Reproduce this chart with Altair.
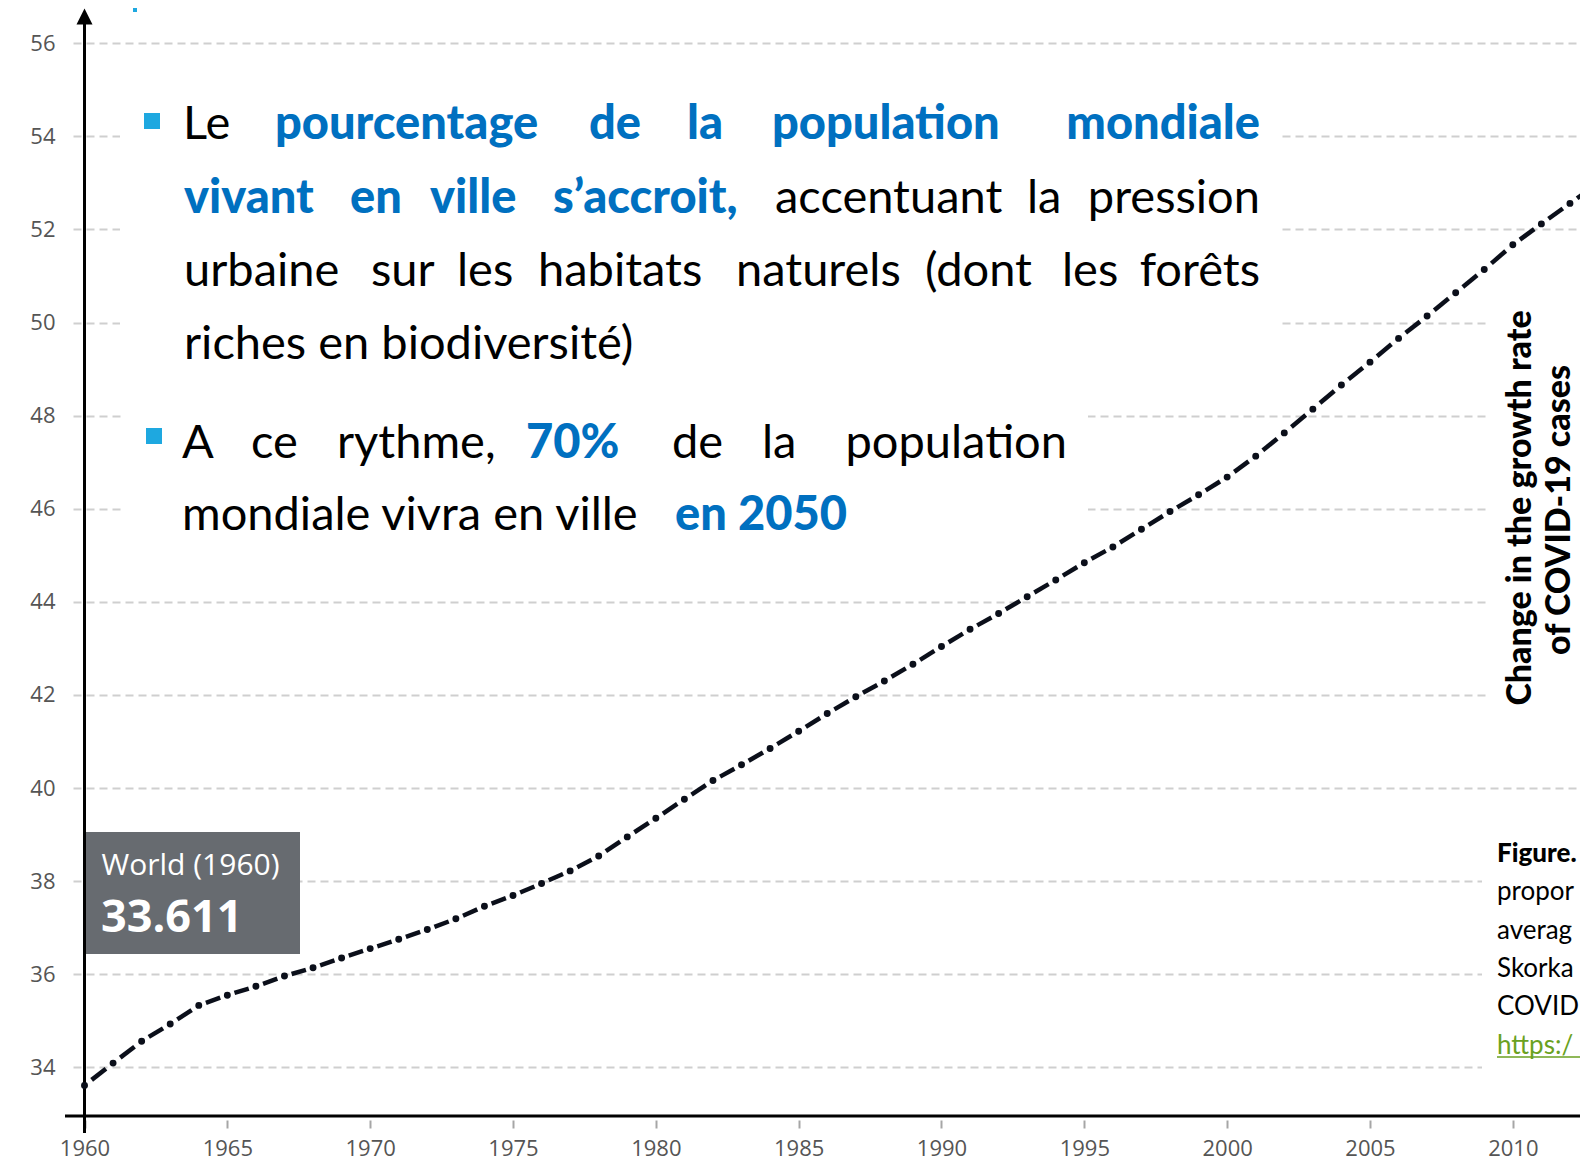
import altair as alt
import pandas as pd

# ---------------- data ----------------
years = list(range(1960, 2014))
urban_share = [
    33.61, 34.09, 34.56, 34.93, 35.33, 35.55, 35.74, 35.96, 36.14, 36.35,
    36.55, 36.75, 36.96, 37.19, 37.46, 37.69, 37.95, 38.22, 38.54, 38.95,
    39.35, 39.76, 40.16, 40.50, 40.85, 41.22, 41.60, 41.96, 42.30, 42.66,
    43.04, 43.41, 43.75, 44.11, 44.47, 44.84, 45.18, 45.56, 45.94, 46.30,
    46.68, 47.13, 47.63, 48.14, 48.66, 49.15, 49.66, 50.14, 50.64, 51.14,
    51.67, 52.12, 52.56, 53.00,
]
x_ticks = list(range(1960, 2011, 5))
y_ticks = list(range(34, 57, 2))

df = pd.DataFrame({"year": years, "value": urban_share})

# ---------------- layout ----------------
W, H = 1507, 1108          # plot area
OX, OY = 73, 8             # page position of plot origin
LINE = "#0b0f1a"
BLUE = "#0070c0"
BULLET = "#1ea8e0"
SLIDE_FONT = "Lato"
CHART_FONT = "Open Sans"

xs = alt.Scale(domain=[1959.597, 2012.352], nice=False, zero=False)
ys = alt.Scale(domain=[32.954, 56.758], nice=False, zero=False)

xaxis = alt.Axis(values=x_ticks, format="d", title=None, grid=False, domain=False,
                 ticks=True, tickSize=8, tickColor="#a6a6a6", tickWidth=2, offset=4,
                 labelPadding=10, labelFont=CHART_FONT, labelFontSize=22,
                 labelColor="#555555", labelFlush=False, labelOverlap=False)
yaxis = alt.Axis(values=y_ticks, title=None, grid=True, gridColor="#cfcfcf",
                 gridDash=[8, 5], gridWidth=2, domain=False, ticks=False,
                 labelPadding=18, labelFont=CHART_FONT, labelFontSize=22,
                 labelColor="#555555", labelOverlap=False)


def one(**kw):
    return pd.DataFrame({k: [v] for k, v in kw.items()})


def box(x1, y1, x2, y2, color):
    return alt.Chart(one(k=0)).mark_rect(color=color, opacity=1).encode(
        x=alt.value(x1 - OX), x2=alt.value(x2 - OX),
        y=alt.value(y1 - OY), y2=alt.value(y2 - OY))


def word(s, x, y, size, color="black", weight="normal", font=SLIDE_FONT,
         align="left", angle=0):
    return alt.Chart(one(t=s)).mark_text(
        align=align, baseline="alphabetic", font=font, fontSize=size,
        fontWeight=weight, color=color, angle=angle).encode(
        text="t:N", x=alt.value(x - OX), y=alt.value(y - OY))


layers = []

# white boxes of the slide text frames (hide grid lines behind them)
layers += [
    box(120, 60, 1281, 392, "white"),
    box(122, 392, 1088, 562, "white"),
    box(1490, 272, 1600, 740, "white"),
    box(1482, 828, 1600, 1092, "white"),
]

# tooltip box
layers.append(box(85, 832, 300, 954, "#676b70"))
layers.append(word("World (1960)", 101.5, 875, 30, "white", "normal", CHART_FONT))
layers.append(word("33.611", 101, 931.5, 45, "white", "bold", CHART_FONT))

# axis lines
layers.append(alt.Chart(one(k=0)).mark_rule(color="black", strokeWidth=3).encode(
    x=alt.value(84.5 - OX), y=alt.value(20 - OY), y2=alt.value(1133 - OY)))
layers.append(alt.Chart(one(k=0)).mark_rule(color="black", strokeWidth=3).encode(
    x=alt.value(65 - OX), x2=alt.value(W), y=alt.value(H)))
layers.append(alt.Chart(one(k=0)).mark_point(
    shape="M-1,1L0,-1L1,1Z", filled=True, size=256, color="black", opacity=1).encode(
    x=alt.value(84.5 - OX), y=alt.value(16.5 - OY)))

# small blue remnant at top
layers.append(box(133, 8, 137, 12, BULLET))

# line: one dash per yearly segment + a dot at every year
dashes = (
    alt.Chart(df)
    .transform_window(ny="lead(year)", nv="lead(value)",
                      sort=[alt.SortField("year")], frame=[None, None])
    .transform_filter("datum.ny != null")
    .transform_calculate(
        xa="datum.year + 0.25*(datum.ny - datum.year)",
        xb="datum.year + 0.75*(datum.ny - datum.year)",
        ya="datum.value + 0.25*(datum.nv - datum.value)",
        yb="datum.value + 0.75*(datum.nv - datum.value)")
    .mark_rule(color=LINE, strokeWidth=4.5, strokeCap="butt")
    .encode(x=alt.X("xa:Q", scale=xs, axis=xaxis), x2="xb:Q",
            y=alt.Y("ya:Q", scale=ys, axis=yaxis), y2="yb:Q")
)
dots = alt.Chart(df).mark_circle(size=48, color=LINE, opacity=1).encode(
    x=alt.X("year:Q", scale=xs, axis=xaxis),
    y=alt.Y("value:Q", scale=ys, axis=yaxis))
layers += [dashes, dots]

# slide text: bullets
layers.append(box(144, 113, 160, 129, BULLET))
layers.append(box(146, 428, 162, 444, BULLET))

FS = 47
B = 900
N = "normal"
texts = [
    # line 1
    ("Le", 183, 139, "black", N, "left"),
    ("pourcentage", 275, 139, BLUE, B, "left"),
    ("de", 589, 139, BLUE, B, "left"),
    ("la", 687, 139, BLUE, B, "left"),
    ("population", 772, 139, BLUE, B, "left"),
    ("mondiale", 1260, 139, BLUE, B, "right"),
    # line 2
    ("vivant", 184, 212.5, BLUE, B, "left"),
    ("en", 350, 212.5, BLUE, B, "left"),
    ("ville", 430, 212.5, BLUE, B, "left"),
    ("s\u2019accroit,", 553, 212.5, BLUE, B, "left"),
    ("accentuant", 775, 212.5, "black", N, "left"),
    ("la", 1027, 212.5, "black", N, "left"),
    ("pression", 1260, 212.5, "black", N, "right"),
    # line 3
    ("urbaine", 184, 286, "black", N, "left"),
    ("sur", 371, 286, "black", N, "left"),
    ("les", 457, 286, "black", N, "left"),
    ("habitats", 538, 286, "black", N, "left"),
    ("naturels", 736, 286, "black", N, "left"),
    ("(dont", 925, 286, "black", N, "left"),
    ("les", 1062, 286, "black", N, "left"),
    ("for\u00eats", 1260, 286, "black", N, "right"),
    # line 4
    ("riches en biodiversit\u00e9)", 184, 359, "black", N, "left"),
    # bullet 2
    ("A", 182, 458, "black", N, "left"),
    ("ce", 251, 458, "black", N, "left"),
    ("rythme,", 337, 458, "black", N, "left"),
    ("70%", 526, 458, BLUE, B, "left"),
    ("de", 672, 458, "black", N, "left"),
    ("la", 762, 458, "black", N, "left"),
    ("population", 1067, 458, "black", N, "right"),
    ("mondiale vivra en ville", 182, 530, "black", N, "left"),
    ("en 2050", 675, 530, BLUE, B, "left"),
]
for s, x, y, c, wgt, al in texts:
    layers.append(word(s, x, y, FS, c, wgt, SLIDE_FONT, al))

# rotated axis title of the neighbouring figure
layers.append(word("Change in the growth rate", 1531, 508, 34, "black", 900,
                   SLIDE_FONT, "center", 270))
layers.append(word("of COVID-19 cases", 1570, 510, 34, "black", 900,
                   SLIDE_FONT, "center", 270))

# caption of the neighbouring figure (cut at the page edge)
CX = 1497
layers.append(word("Figure.", CX, 861.5, 26, "black", 900))
for s, y in [("propor", 900), ("averag", 938.5), ("Skorka", 976.5), ("COVID", 1015)]:
    layers.append(word(s, CX, y, 26, "black"))
layers.append(word("https:/", CX, 1053.5, 26, "#6aa121"))
layers.append(alt.Chart(one(k=0)).mark_rule(color="#6aa121", strokeWidth=1.5).encode(
    x=alt.value(CX - OX), x2=alt.value(W), y=alt.value(1057 - OY)))

chart = (
    alt.layer(*layers)
    .properties(width=W, height=H,
                padding={"left": 65, "top": 0, "right": 0, "bottom": 44},
                autosize=alt.AutoSizeParams(type="none"),
                background="white")
    .configure_view(stroke=None)
)

chart.save("out.html", embed_options={"renderer": "svg", "actions": False})
